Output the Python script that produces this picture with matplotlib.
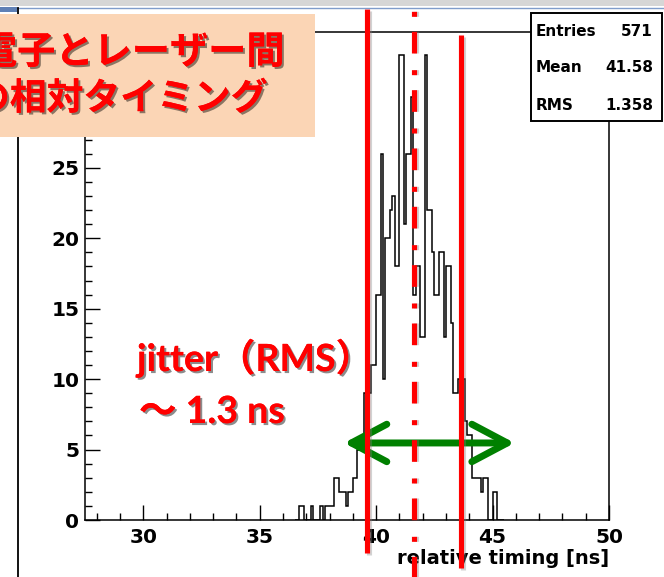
import numpy as np
import matplotlib.pyplot as plt
import matplotlib.patheffects as pe
import matplotlib.transforms as mtransforms
from matplotlib.patches import Rectangle
from matplotlib.lines import Line2D
from matplotlib.ticker import MultipleLocator

plt.rcParams['lines.scale_dashes'] = False
plt.rcParams['font.family'] = ['DejaVu Sans']

W, H = 664, 577

# histogram contents, 0.1 ns bins starting at 36.5 ns
bin_start = 36.5
bin_width = 0.1
counts = [0, 0, 1, 1, 0, 0, 0, 1, 0, 0,          # 36.5 - 37.4
          0, 1, 0, 1, 1, 1, 1, 3, 3, 2,          # 37.5 - 38.4
          2, 2, 1, 2, 2, 3, 3, 5, 5, 5,          # 38.5 - 39.4
          9, 9, 9, 11, 11, 16, 16, 26, 10, 20,   # 39.5 - 40.4
          20, 22, 23, 18, 18, 33, 33, 21, 26, 26,  # 40.5 - 41.4
          30, 16, 18, 18, 13, 13, 33, 22, 22, 19,  # 41.5 - 42.4
          16, 16, 19, 19, 13, 18, 18, 14, 9, 9,    # 42.5 - 43.4
          10, 10, 10, 7, 6, 6, 3, 3, 3, 3,         # 43.5 - 44.4
          2, 3, 3, 0, 0, 2, 2, 0, 0, 0]            # 44.5 - 45.4

x_range = (27.5, 50.0)
y_max = 34.65
x_major = [30, 35, 40, 45, 50]
y_major = [0, 5, 10, 15, 20, 25]   # 30 sits under the title box

stat_names = ['Entries', 'Mean', 'RMS']
stat_values = ['571', '41.58', '1.358']

# hand drawn markers on the slide
cut_lo_ns = 39.6
mean_ns = 41.63
cut_hi_ns = 43.63
arrow_ns = (38.62, 45.95)
arrow_level = 5.47

title_lines = ['電子とレーザー間', 'の相対タイミング']
note_lines = ['jitter（RMS）', '〜 1.3 ns']


def fx(px):
    return px / W


def fy(py):
    return 1 - py / H


fig = plt.figure(figsize=(W / 100, H / 100), dpi=100)
fig.patch.set_facecolor('white')

# window chrome at the top / left
fig.add_artist(Rectangle((0, fy(6)), 1, 6 / H, transform=fig.transFigure,
                         facecolor='#D6D6D6', edgecolor='none', zorder=1))
fig.add_artist(Line2D([0, 1], [fy(7.5)] * 2, transform=fig.transFigure,
                      color='#7F9CCB', lw=1.0, zorder=1))
fig.add_artist(Rectangle((0, fy(12)), fx(17), 4.5 / H, transform=fig.transFigure,
                         facecolor='#5F80B5', edgecolor='none', zorder=1))
fig.add_artist(Line2D([fx(17.5)] * 2, [fy(8), 0], transform=fig.transFigure,
                      color='black', lw=1.3, zorder=1))

ax = fig.add_axes([fx(85), fy(520), fx(609) - fx(85), fy(32) - fy(520)])
edges = bin_start + bin_width * np.arange(len(counts) + 1)
ax.stairs(counts, edges, baseline=0, color='black', lw=1.1)

ax.set_xlim(*x_range)
ax.set_ylim(0, y_max)
ax.set_xticks(x_major)
ax.set_yticks(y_major)
ax.xaxis.set_minor_locator(MultipleLocator(1))
ax.yaxis.set_minor_locator(MultipleLocator(1))
ax.tick_params(which='both', direction='in', top=False, right=False, width=1.0)
ax.tick_params(which='major', length=10.5)
ax.tick_params(which='minor', length=5)
ax.tick_params(axis='x', pad=6)
ax.tick_params(axis='y', pad=4)
for lab in ax.get_xticklabels() + ax.get_yticklabels():
    lab.set_fontsize(14.5)
    lab.set_fontweight('bold')
for sp in ax.spines.values():
    sp.set_linewidth(1.1)

ax.set_xlabel('relative timing [ns]', fontsize=14, fontweight='bold',
              ha='right', va='center')
ax.xaxis.set_label_coords(1.0, -(558 - 520) / 488)

# stats box
fig.add_artist(Rectangle((fx(531), fy(121)), fx(662) - fx(531), fy(13) - fy(121),
                         transform=fig.transFigure, facecolor='white',
                         edgecolor='black', lw=1.4, zorder=5))
for name, val, py in zip(stat_names, stat_values, [32, 68, 105]):
    fig.text(fx(536), fy(py), name, fontsize=11, fontweight='bold',
             ha='left', va='center', zorder=6)
    fig.text(fx(653), fy(py), val, fontsize=11, fontweight='bold',
             ha='right', va='center', zorder=6)

# red marker lines
trans = mtransforms.blended_transform_factory(ax.transData, ax.transAxes)
shadow = [pe.SimpleLineShadow(offset=(1.5, -1.5), shadow_color='gray', alpha=0.35),
          pe.Normal()]
ax.add_line(Line2D([cut_lo_ns] * 2, [-0.068, 1.047], transform=trans,
                   color='red', lw=3.7, clip_on=False, zorder=8,
                   solid_capstyle='butt', path_effects=shadow))
ax.add_line(Line2D([cut_hi_ns] * 2, [-0.098, 0.994], transform=trans,
                   color='red', lw=3.7, clip_on=False, zorder=8,
                   solid_capstyle='butt', path_effects=shadow))
ax.add_line(Line2D([mean_ns] * 2, [-0.12, 1.07], transform=trans,
                   color='red', lw=3.7, clip_on=False, zorder=8,
                   linestyle=(0, (15.6, 10.8, 3.6, 12.0)), dash_capstyle='butt',
                   path_effects=shadow))

# green double arrow
ax.annotate('', xy=(arrow_ns[1], arrow_level), xytext=(arrow_ns[0], arrow_level),
            annotation_clip=False, zorder=7,
            arrowprops=dict(arrowstyle='<->,head_length=1.7,head_width=0.9',
                            color='#008000', lw=5, mutation_scale=15,
                            shrinkA=0, shrinkB=0, capstyle='round',
                            joinstyle='round'))

text_shadow = [pe.withSimplePatchShadow(offset=(1.5, -1.5), shadow_rgbFace='black',
                                        alpha=0.45), pe.Normal()]

# title box (text runs off the left edge of the crop)
fig.add_artist(Rectangle((0, fy(137)), fx(315), fy(14) - fy(137),
                         transform=fig.transFigure, facecolor='#FBD5B5',
                         edgecolor='none', zorder=9))
for line, px, py, size in zip(title_lines, [-21, -27], [52, 99], [27.5, 26.5]):
    fig.text(fx(px), fy(py), line, fontsize=size, fontweight='bold', color='red',
             family=['Noto Sans CJK JP'], ha='left', va='center', zorder=10,
             path_effects=text_shadow)

# jitter note
for line, px, py in zip(note_lines, [137, 139], [371, 423]):
    fig.text(fx(px), fy(py), line, fontsize=27, fontweight='bold', color='red',
             family=['Lato', 'Noto Sans CJK JP'], ha='left', va='baseline',
             zorder=10, path_effects=text_shadow)

fig.savefig('out.png', dpi=100)
